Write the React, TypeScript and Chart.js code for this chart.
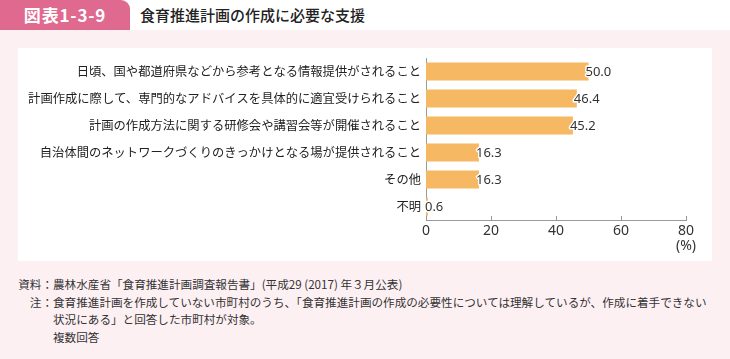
import React, { useEffect, useRef } from "react";
import { Chart, registerables } from "chart.js";

Chart.register(...registerables);

const categories = [
  "日頃、国や都道府県などから参考となる情報提供がされること",
  "計画作成に際して、専門的なアドバイスを具体的に適宜受けられること",
  "計画の作成方法に関する研修会や講習会等が開催されること",
  "自治体間のネットワークづくりのきっかけとなる場が提供されること",
  "その他",
  "不明",
];
const values = [50.0, 46.4, 45.2, 16.3, 16.3, 0.6];
const xTicks = [0, 20, 40, 60, 80];
const unitLabel = "(%)";

const FONT = "'Noto Sans CJK JP', 'Noto Sans', sans-serif";
const NUM_FONT = "'Noto Sans', 'Noto Sans CJK JP', sans-serif";

const valueLabelPlugin = {
  id: "valueLabels",
  afterDatasetsDraw(chart: any) {
    const ctx = chart.ctx;
    const meta = chart.getDatasetMeta(0);
    ctx.save();
    ctx.font = `13px ${NUM_FONT}`;
    ctx.textAlign = "left";
    ctx.textBaseline = "middle";
    ctx.lineJoin = "round";
    meta.data.forEach((bar: any, i: number) => {
      const txt = values[i].toFixed(1);
      const x = bar.x - 3;
      const y = bar.y + 1;
      ctx.strokeStyle = "#ffffff";
      ctx.lineWidth = 3;
      ctx.strokeText(txt, x, y);
      ctx.fillStyle = "#333333";
      ctx.fillText(txt, x, y);
    });
    ctx.restore();
  },
};

const innerTicksPlugin = {
  id: "innerTicks",
  afterDraw(chart: any) {
    const ctx = chart.ctx;
    const xs = chart.scales.x;
    const bottom = chart.chartArea.bottom;
    ctx.save();
    ctx.strokeStyle = "#999999";
    ctx.lineWidth = 1;
    xTicks.forEach((v) => {
      if (v === 0) return;
      const x = Math.round(xs.getPixelForValue(v)) + 0.5;
      ctx.beginPath();
      ctx.moveTo(x, bottom);
      ctx.lineTo(x, bottom - 4);
      ctx.stroke();
    });
    ctx.restore();
  },
};

function BarChart() {
  const ref = useRef<HTMLCanvasElement | null>(null);
  useEffect(() => {
    if (!ref.current) return;
    const chart = new Chart(ref.current, {
      type: "bar",
      data: {
        labels: categories,
        datasets: [
          {
            data: values,
            backgroundColor: "#f6b862",
            borderWidth: 0,
            categoryPercentage: 1,
            barPercentage: 0.667,
          },
        ],
      },
      options: {
        indexAxis: "y",
        animation: false,
        responsive: false,
        maintainAspectRatio: false,
        layout: { padding: { top: 18, right: 44, left: 0, bottom: 0 } },
        plugins: {
          legend: { display: false },
          tooltip: { enabled: false },
        },
        scales: {
          x: {
            min: 0,
            max: 80,
            afterBuildTicks(scale: any) {
              scale.ticks = xTicks.map((v) => ({ value: v }));
            },
            afterFit(scale: any) {
              scale.height = 50;
            },
            grid: { display: false, drawTicks: false },
            border: { display: true, color: "#9a9a9a", width: 1 },
            ticks: {
              padding: 4,
              color: "#333333",
              font: { family: NUM_FONT, size: 14, lineHeight: 1.05 },
              callback: (v: any) => (Number(v) === 80 ? ["80", unitLabel] : String(v)),
              maxRotation: 0,
              autoSkip: false,
            },
          },
          y: {
            afterFit(scale: any) {
              scale.width = 426;
            },
            grid: { display: false, drawTicks: false },
            border: { display: true, color: "#9a9a9a", width: 1 },
            ticks: {
              padding: 5,
              color: "#222222",
              font: { family: FONT, size: 12.3 },
              autoSkip: false,
            },
          },
        },
      },
      plugins: [valueLabelPlugin, innerTicksPlugin],
    });
    return () => chart.destroy();
  }, []);
  return (
    <canvas
      ref={ref}
      width={730}
      height={230}
      style={{ position: "absolute", left: 0, top: 40, width: 730, height: 230 }}
    />
  );
}

export default function App() {
  const noteStyle: React.CSSProperties = {
    position: "absolute",
    fontFamily: FONT,
    fontSize: 11.6,
    color: "#333333",
    whiteSpace: "nowrap",
    lineHeight: "17.5px",
  };
  return (
    <div
      style={{
        position: "fixed",
        left: 0,
        top: 0,
        width: 730,
        height: 359,
        background: "#fdf0f3",
        overflow: "hidden",
        fontFamily: FONT,
      }}
    >
      <div style={{ position: "absolute", left: 0, top: 0, width: 730, height: 30, background: "#ffffff" }} />
      <div
        style={{
          position: "absolute",
          left: 0,
          top: 0,
          width: 130,
          height: 30,
          background: "#e0698f",
          borderTopRightRadius: 9,
          color: "#ffffff",
          fontWeight: 700,
          fontSize: 17,
          letterSpacing: 0.8,
          lineHeight: "30px",
          textAlign: "center",
        }}
      >
        図表1-3-9
      </div>
      <div
        style={{
          position: "absolute",
          left: 140,
          top: 0,
          height: 30,
          lineHeight: "30px",
          fontSize: 15,
          fontWeight: 500,
          color: "#222222",
          whiteSpace: "nowrap",
        }}
      >
        食育推進計画の作成に必要な支援
      </div>
      <div
        style={{ position: "absolute", left: 18, top: 48, width: 694, height: 213, background: "#ffffff" }}
      />
      <BarChart />
      <div style={{ ...noteStyle, left: 0, top: 276, width: 53, textAlign: "right" }}>
        <div>資料：</div>
        <div>注：</div>
      </div>
      <div style={{ ...noteStyle, left: 53, top: 276 }}>
        <div>農林水産省「食育推進計画調査報告書」(平成29 (2017) 年３月公表)</div>
        <div>
          食育推進計画を作成していない市町村のうち、「食育推進計画の作成の必要性については理解しているが、作成に着手できない
        </div>
        <div>状況にある」と回答した市町村が対象。</div>
        <div>複数回答</div>
      </div>
    </div>
  );
}
